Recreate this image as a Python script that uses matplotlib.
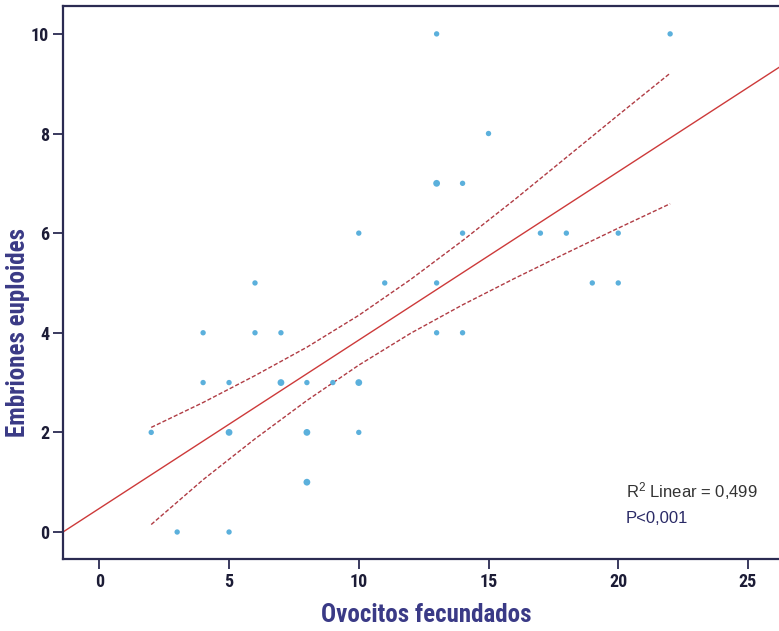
import matplotlib
matplotlib.use("Agg")
import matplotlib.pyplot as plt

# observed points (ovocitos fecundados, embriones euploides); count = overlapping cases
ovocitos = [2, 3, 4, 4, 5, 5, 5, 6, 6, 7, 7, 8, 8, 8, 9, 10, 10, 10, 11,
            13, 13, 13, 13, 14, 14, 14, 15, 17, 18, 19, 20, 20, 22]
euploides = [2, 0, 4, 3, 3, 2, 0, 5, 4, 4, 3, 3, 2, 1, 3, 6, 3, 2, 5,
             10, 7, 5, 4, 7, 6, 4, 8, 6, 6, 5, 6, 5, 10]
counts = [1, 1, 1, 1, 1, 2, 1, 1, 1, 1, 2, 1, 2, 2, 1, 1, 2, 1, 1,
          1, 2, 1, 1, 1, 1, 1, 1, 1, 1, 1, 1, 1, 1]

# linear fit
fit_intercept = 0.473
fit_slope = 0.338

# 95% confidence band of the mean
band_x = [2, 4, 6, 8, 10, 12, 14, 16, 18, 20, 22]
band_upper = [2.10, 2.60, 3.14, 3.71, 4.35, 5.07, 5.85, 6.67, 7.52, 8.37, 9.21]
band_lower = [0.15, 1.05, 1.87, 2.64, 3.35, 3.99, 4.56, 5.09, 5.60, 6.10, 6.59]

x_ticks = [0, 5, 10, 15, 20, 25]
y_ticks = [0, 2, 4, 6, 8, 10]
r2_text = "R$^2$ Linear = 0,499"
p_text = "P<0,001"

NAVY = "#2b2b52"
LABEL = "#3a3a86"
DOT = "#5bb0dc"
RED = "#cd3a3a"
NARROW = ["Roboto Condensed", "DejaVu Sans"]
SANS = ["Liberation Sans", "DejaVu Sans"]

plt.rcParams["mathtext.fontset"] = "custom"
plt.rcParams["mathtext.rm"] = "Liberation Sans"
plt.rcParams["mathtext.default"] = "rm"

fig = plt.figure(figsize=(7.79, 6.31), dpi=100)
ax = fig.add_axes([63 / 779, 72 / 631, 727 / 779, 553 / 631])

xlim = (-1.40, 26.62)
ax.set_xlim(*xlim)
ax.set_ylim(-0.542, 10.56)

ax.plot(xlim, [fit_intercept + fit_slope * v for v in xlim],
        color=RED, lw=1.0, zorder=2)
ax.plot(band_x, band_upper, color="#b03c44", lw=1.0, ls=(0, (3, 1.5)), zorder=2)
ax.plot(band_x, band_lower, color="#b03c44", lw=1.0, ls=(0, (3, 1.5)), zorder=2)
ax.scatter(ovocitos, euploides, s=[15 + 9 * (c - 1) for c in counts],
           color=DOT, edgecolors="none", zorder=3)

ax.set_xticks(x_ticks)
ax.set_yticks(y_ticks)
ax.tick_params(direction="out", length=7, width=1.3, color=NAVY, pad=3,
               labelsize=13, labelcolor="#1c1c36")
for lab in ax.get_xticklabels() + ax.get_yticklabels():
    lab.set_family(NARROW)
    lab.set_fontweight("bold")
for s in ax.spines.values():
    s.set_color(NAVY)
    s.set_linewidth(1.6)

ax.set_xlabel("Ovocitos fecundados", family=NARROW, fontweight="bold",
              fontsize=18, color=LABEL, labelpad=9)
ax.set_ylabel("Embriones euploides", family=NARROW, fontweight="bold",
              fontsize=18, color=LABEL)
ax.yaxis.set_label_coords(-33 / 727, 0.41)

ax.text(20.3, 0.82, r2_text, fontsize=12, color="#333333", family=SANS, va="center")
ax.text(20.3, 0.28, p_text, fontsize=12, color="#2a2a66", family=SANS, va="center")

fig.savefig("out.png", dpi=100)
